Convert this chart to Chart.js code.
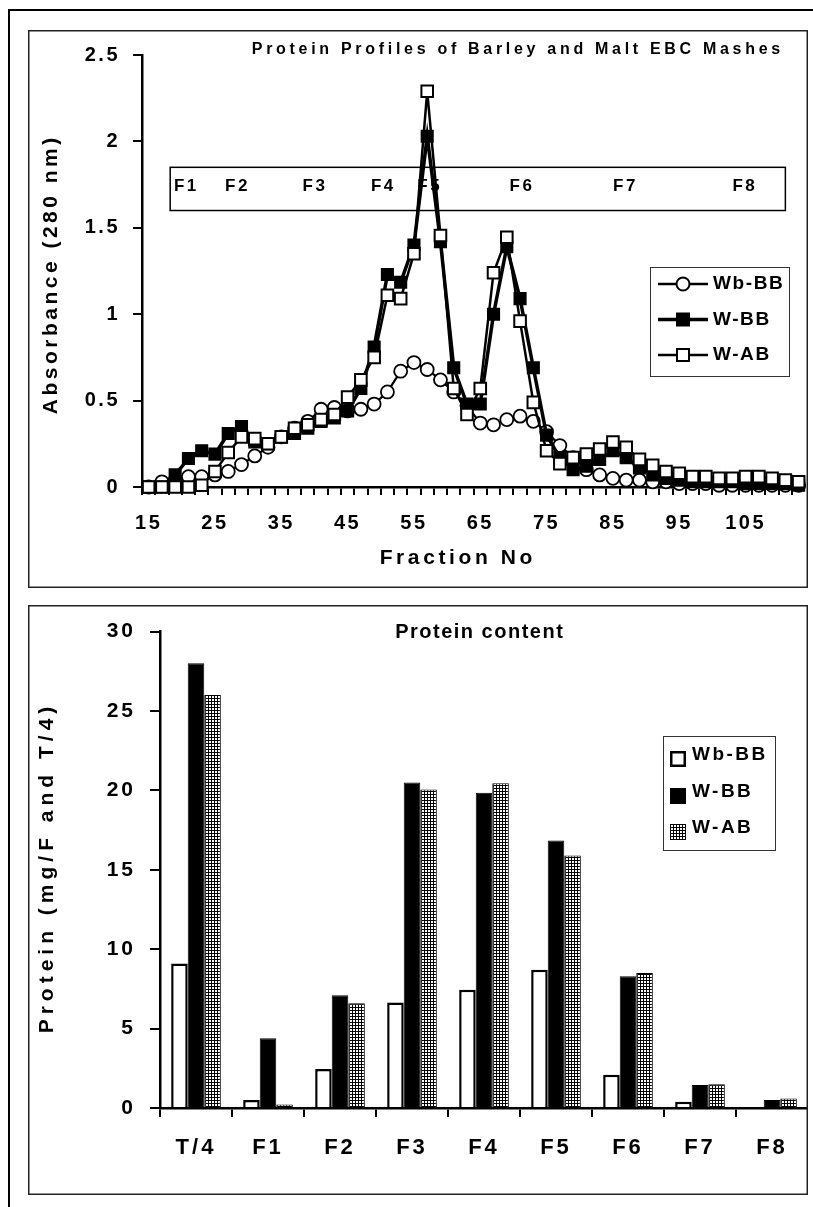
<!DOCTYPE html>
<html><head><meta charset="utf-8">
<script src="https://cdn.jsdelivr.net/npm/chart.js@4.4.1/dist/chart.umd.min.js"></script>
<style>
html,body{margin:0;padding:0;background:#fff}
body{width:813px;height:1207px;position:relative;overflow:hidden}
#lv{position:absolute;left:8px;top:9px;width:2px;height:1198px;background:#000}
#lh{position:absolute;left:8px;top:9px;width:805px;height:2px;background:#000}
canvas{position:absolute}
#c1{left:28px;top:30px}
#c2{left:28px;top:605px}
</style></head><body>
<div id="lv"></div><div id="lh"></div>
<canvas id="c1" width="780" height="558"></canvas>
<canvas id="c2" width="780" height="590"></canvas>
<script>
const FONT = '"Liberation Sans", Arial, sans-serif';

// ---------- Top chart data ----------
const fractions = [15,17,19,21,23,25,27,29,31,33,35,37,39,41,43,45,47,49,51,53,55,57,59,61,63,65,67,69,71,73,75,77,79,81,83,85,87,89,91,93,95,97,99,101,103,105,107,109,111,113];
const wbBB = [0,0.03,0.04,0.06,0.06,0.07,0.09,0.13,0.18,0.23,0.29,0.34,0.38,0.45,0.46,0.44,0.45,0.48,0.55,0.67,0.72,0.68,0.62,0.55,0.47,0.37,0.36,0.39,0.41,0.38,0.32,0.24,0.17,0.10,0.07,0.05,0.04,0.04,0.03,0.03,0.02,0.02,0.02,0.01,0.01,0.01,0.01,0.01,0.01,0.01];
const wBB = [0,0,0.07,0.165,0.21,0.19,0.31,0.35,0.26,0.25,0.29,0.31,0.34,0.38,0.40,0.44,0.57,0.81,1.23,1.185,1.40,2.03,1.42,0.69,0.48,0.48,1.00,1.39,1.09,0.69,0.30,0.17,0.10,0.12,0.16,0.21,0.17,0.11,0.07,0.05,0.04,0.03,0.03,0.03,0.03,0.02,0.02,0.02,0.02,0.01];
const wAB = [0,0,0,0,0.01,0.09,0.20,0.29,0.28,0.25,0.29,0.34,0.36,0.39,0.42,0.52,0.62,0.75,1.11,1.09,1.35,2.29,1.455,0.57,0.42,0.57,1.24,1.445,0.96,0.49,0.21,0.135,0.17,0.19,0.22,0.26,0.23,0.16,0.125,0.09,0.08,0.06,0.06,0.05,0.05,0.06,0.06,0.05,0.04,0.03];
const seriesNames = ['Wb-BB','W-BB','W-AB'];
const topTitle = 'Protein Profiles of Barley and Malt EBC Mashes';
const topYTitle = 'Absorbance (280 nm)';
const topXTitle = 'Fraction No';
const fBoxLabels = ['F1','F2','F3','F4','F5','F6','F7','F8'];
const fBoxLabelPos = [20.5,28.2,39.9,50.2,57.2,71.1,86.7,104.7];
const fBoxLabelY = 1.74;
const fBoxRange = [18.25,111,1.60,1.85]; // xMin,xMax,yMin,yMax (data units)

// ---------- Bottom chart data ----------
const categories = ['T/4','F1','F2','F3','F4','F5','F6','F7','F8'];
const wbBBContent = [9.1,0.5,2.45,6.65,7.45,8.7,2.1,0.4,0];
const wBBContent = [28.0,4.4,7.1,20.5,19.85,16.85,8.3,1.45,0.5];
const wABContent = [26.0,0.22,6.6,20.05,20.45,15.9,8.5,1.5,0.6];
const bottomTitle = 'Protein content';
const bottomYTitle = 'Protein (mg/F and T/4)';

function spacedText(ctx, text, x, y, font, spacing, align, rot) {
  ctx.save();
  ctx.font = font;
  ctx.letterSpacing = spacing + 'px';
  ctx.fillStyle = '#000';
  ctx.textBaseline = 'middle';
  ctx.textAlign = 'left';
  const w = ctx.measureText(text).width - spacing;
  let sx = align === 'center' ? -w / 2 : align === 'right' ? -w : 0;
  ctx.translate(x, y);
  if (rot) ctx.rotate(rot);
  ctx.fillText(text, sx, 0);
  ctx.restore();
}

function boxBorder(chart) {
  const ctx = chart.ctx;
  ctx.save();
  ctx.strokeStyle = '#222';
  ctx.lineWidth = 1.5;
  ctx.strokeRect(0.75, 0.75, chart.width - 1.5, chart.height - 1.5);
  ctx.restore();
}

// pattern for W-AB bars
const pat = document.createElement('canvas');
pat.width = 3; pat.height = 3;
const pc = pat.getContext('2d');
pc.fillStyle = '#fff'; pc.fillRect(0,0,3,3);
pc.fillStyle = '#000'; pc.fillRect(0,0,3,1); pc.fillRect(0,0,1,3);
const ctx2 = document.getElementById('c2').getContext('2d');
const gridPattern = ctx2.createPattern(pat, 'repeat');

// ---------- Top chart ----------
const topDecor = {
  id: 'topDecor',
  beforeLayout(c) { c.ctx.letterSpacing = '2.5px'; },
  beforeDraw(c) { c.ctx.letterSpacing = '2.5px'; },
  beforeDatasetsDraw(c) {
    const ctx = c.ctx, xs = c.scales.x, ys = c.scales.y;
    const l = xs.getPixelForValue(fBoxRange[0]), r = xs.getPixelForValue(fBoxRange[1]);
    const t = ys.getPixelForValue(fBoxRange[3]), b = ys.getPixelForValue(fBoxRange[2]);
    ctx.save();
    ctx.fillStyle = '#fff'; ctx.fillRect(l, t, r - l, b - t);
    ctx.lineWidth = 1.5; ctx.strokeStyle = '#000'; ctx.strokeRect(l, t, r - l, b - t);
    ctx.restore();
    fBoxLabels.forEach((lab, i) => spacedText(ctx, lab, xs.getPixelForValue(fBoxLabelPos[i]), ys.getPixelForValue(fBoxLabelY), 'bold 17px ' + FONT, 2.5, 'center'));
  },
  afterDraw(c) {
    const ctx = c.ctx;
    spacedText(ctx, topTitle, 488, 20, 'bold 16px ' + FONT, 3.7, 'center');
    spacedText(ctx, topXTitle, 428, 528, 'bold 21px ' + FONT, 3.6, 'center');
    spacedText(ctx, topYTitle, 23, 246, 'bold 21px ' + FONT, 3.5, 'center', -Math.PI / 2);
    // legend
    ctx.save();
    ctx.fillStyle = '#fff';
    ctx.fillRect(622, 237, 139, 109);
    ctx.strokeStyle = '#333'; ctx.lineWidth = 1;
    ctx.strokeRect(622.5, 237.5, 139, 109);
    const ys = [254, 289.5, 325];
    const lw = [2.5, 3.5, 2.5];
    ys.forEach((yy, i) => {
      ctx.strokeStyle = '#000'; ctx.lineWidth = lw[i];
      ctx.beginPath(); ctx.moveTo(630, yy); ctx.lineTo(680, yy); ctx.stroke();
      ctx.lineWidth = 2;
      if (i === 0) {
        ctx.beginPath(); ctx.arc(655, yy, 6.5, 0, Math.PI * 2);
        ctx.fillStyle = '#fff'; ctx.fill(); ctx.stroke();
      } else {
        ctx.fillStyle = i === 1 ? '#000' : '#fff';
        ctx.fillRect(649, yy - 6, 12, 12);
        ctx.strokeRect(649, yy - 6, 12, 12);
      }
      spacedText(ctx, seriesNames[i], 685, yy, 'bold 19px ' + FONT, 1.6, 'left');
    });
    ctx.restore();
    boxBorder(c);
  }
};

new Chart(document.getElementById('c1'), {
  type: 'line',
  data: {
    datasets: [
      {label: seriesNames[0], data: fractions.map((f, i) => ({x: f, y: wbBB[i]})), borderColor: '#000', borderWidth: 2.2,
       pointStyle: 'circle', pointRadius: 6.5, pointBackgroundColor: '#fff', pointBorderColor: '#000', pointBorderWidth: 1.8, order: 3},
      {label: seriesNames[1], data: fractions.map((f, i) => ({x: f, y: wBB[i]})), borderColor: '#000', borderWidth: 3.5,
       pointStyle: 'rect', pointRadius: 8.2, pointBackgroundColor: '#000', pointBorderColor: '#000', pointBorderWidth: 1.5, order: 2},
      {label: seriesNames[2], data: fractions.map((f, i) => ({x: f, y: wAB[i]})), borderColor: '#000', borderWidth: 2.5,
       pointStyle: 'rect', pointRadius: 8.2, pointBackgroundColor: '#fff', pointBorderColor: '#000', pointBorderWidth: 2, order: 1}
    ]
  },
  options: {
    responsive: false, animation: false, devicePixelRatio: 1,
    layout: {autoPadding: false, padding: {top: 24, right: 0, bottom: 0, left: 0}},
    elements: {line: {tension: 0}},
    datasets: {line: {clip: false}},
    plugins: {legend: {display: false}, tooltip: {enabled: false}, title: {display: false}},
    scales: {
      x: {
        type: 'linear', min: 14, max: 113.6,
        afterBuildTicks(s) { const t = []; for (let v = 14; v <= 112; v++) t.push({value: v}); s.ticks = t; },
        afterFit(s) { s.height = 101; },
        ticks: {autoSkip: false, maxRotation: 0, color: '#000', font: {family: FONT, size: 20, weight: 'bold'}, padding: 16,
                callback: v => ((v - 15) % 10 === 0 ? String(v) : '')},
        grid: {drawOnChartArea: false, drawTicks: true, tickLength: 8, lineWidth: 2,
               color: ctx => (ctx.tick && ctx.tick.value % 2 === 0) ? '#000' : 'rgba(0,0,0,0)'},
        border: {color: '#000', width: 2.5}
      },
      y: {
        min: 0, max: 2.5,
        afterFit(s) { s.width = 114; },
        ticks: {stepSize: 0.5, color: '#000', font: {family: FONT, size: 20, weight: 'bold'}, padding: 13, callback: v => String(v)},
        grid: {drawOnChartArea: false, drawTicks: true, tickLength: 9, lineWidth: 2, color: '#000'},
        border: {color: '#000', width: 2.5}
      }
    }
  },
  plugins: [topDecor]
});

// ---------- Bottom chart ----------
const bottomDecor = {
  id: 'bottomDecor',
  beforeLayout(c) { c.ctx.letterSpacing = '3px'; },
  beforeDraw(c) { c.ctx.letterSpacing = '3px'; },
  afterDraw(c) {
    const ctx = c.ctx;
    spacedText(ctx, bottomTitle, 451, 27, 'bold 20px ' + FONT, 1.5, 'center');
    spacedText(ctx, bottomYTitle, 19, 265, 'bold 21px ' + FONT, 5, 'center', -Math.PI / 2);
    ctx.save();
    ctx.fillStyle = '#fff';
    ctx.fillRect(635, 131, 112, 114);
    ctx.strokeStyle = '#333'; ctx.lineWidth = 1;
    ctx.strokeRect(635.5, 131.5, 112, 114);
    const ys = [150, 187, 223];
    ys.forEach((yy, i) => {
      const sx = 642, sy = yy - 4, sz = 16;
      if (i === 0) {
        ctx.fillStyle = '#fff'; ctx.fillRect(sx, sy, sz, sz);
        ctx.strokeStyle = '#000'; ctx.lineWidth = 2.5; ctx.strokeRect(sx + 1.25, sy + 1.25, sz - 2.5, sz - 2.5);
      } else if (i === 1) {
        ctx.fillStyle = '#000'; ctx.fillRect(sx, sy, sz, sz);
      } else {
        ctx.fillStyle = gridPattern; ctx.fillRect(sx, sy, sz, sz);
        ctx.strokeStyle = '#000'; ctx.lineWidth = 1; ctx.strokeRect(sx + 0.5, sy + 0.5, sz - 1, sz - 1);
      }
      spacedText(ctx, seriesNames[i], 664, yy, 'bold 19px ' + FONT, 2.5, 'left');
    });
    ctx.restore();
    boxBorder(c);
  }
};

new Chart(document.getElementById('c2'), {
  type: 'bar',
  data: {
    labels: categories,
    datasets: [
      {label: seriesNames[0], data: wbBBContent, backgroundColor: '#fff', borderColor: '#000', borderWidth: 2.5},
      {label: seriesNames[1], data: wBBContent, backgroundColor: '#000', borderColor: '#000', borderWidth: 1},
      {label: seriesNames[2], data: wABContent, backgroundColor: gridPattern, borderColor: '#000', borderWidth: 1}
    ]
  },
  options: {
    responsive: false, animation: false, devicePixelRatio: 1,
    layout: {autoPadding: false, padding: {top: 26, right: 0, bottom: 0, left: 0}},
    datasets: {bar: {categoryPercentage: 0.69, barPercentage: 1}},
    plugins: {legend: {display: false}, tooltip: {enabled: false}, title: {display: false}},
    scales: {
      x: {
        afterFit(s) { s.height = 87; },
        ticks: {color: '#000', font: {family: FONT, size: 22, weight: 'bold'}, padding: 18, maxRotation: 0},
        grid: {offset: true, drawOnChartArea: false, drawTicks: true, tickLength: 9, lineWidth: 2, color: '#000'},
        border: {color: '#000', width: 2.5}
      },
      y: {
        min: 0, max: 30,
        afterFit(s) { s.width = 132; },
        ticks: {stepSize: 5, color: '#000', font: {family: FONT, size: 21, weight: 'bold'}, padding: 14},
        grid: {drawOnChartArea: false, drawTicks: true, tickLength: 10, lineWidth: 2, color: '#000'},
        border: {color: '#000', width: 2.5}
      }
    }
  },
  plugins: [bottomDecor]
});
</script>
</body></html>
